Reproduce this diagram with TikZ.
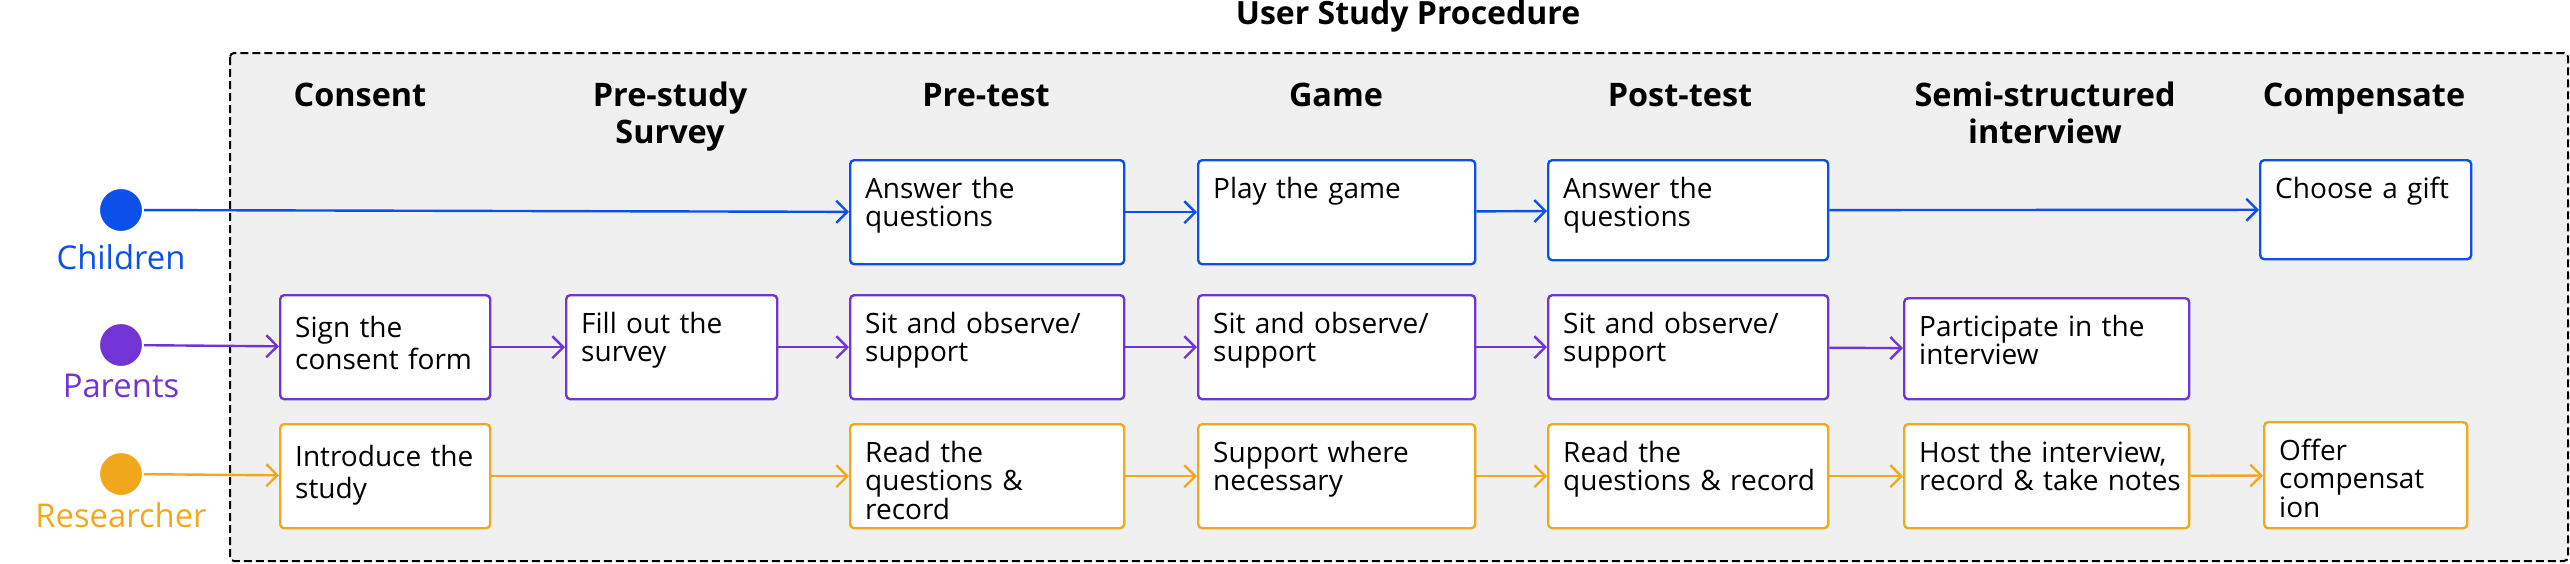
\documentclass[tikz,border=0pt]{standalone}
\usepackage{fontspec}
\setmainfont{Open Sans}
\usetikzlibrary{arrows.meta}
\definecolor{kidblue}{HTML}{0B50E8}
\definecolor{parpurple}{HTML}{7234D4}
\definecolor{resorange}{HTML}{F2A81D}
\definecolor{lanegrey}{HTML}{F0F0F0}
\begin{document}
\begin{tikzpicture}[x=0.5pt,y=-0.5pt,
    stepbox/.style={draw,line width=1.2pt,rounded corners=2pt,fill=white,
      anchor=north west,align=left,inner xsep=7.5pt,inner ysep=0pt,
      text height=19pt,text depth=33pt,font=\fontsize{14}{14.3}\selectfont},
    consentbox/.style={stepbox,text height=21pt,text depth=31pt,
      font=\fontsize{14}{16.3}\selectfont},
    actor/.style={circle,draw=white,line width=1pt,minimum size=22pt,inner sep=0pt},
    actorlabel/.style={anchor=base,font=\fontsize{16.4}{19}\selectfont},
    phase/.style={anchor=base,text width=150pt,align=center,
      font=\fontsize{16.2}{18.5}\selectfont\bfseries},
    flow/.style={line width=1.2pt,-{Straight Barb[length=5.5pt,width=11pt]}}]
  \useasboundingbox (0,0) rectangle (2570,563);
  \draw[line width=1pt,dash pattern=on 4pt off 2pt,fill=lanegrey,rounded corners=2pt]
    (230,53) rectangle (2568,561);
  \node[anchor=base,font=\fontsize{16}{19}\selectfont\bfseries] (title) at (1408,24) {User Study Procedure};
  % phases
  \node[phase] (h1) at (360,106) {Consent};
  \node[phase] (h2) at (670,106) {Pre-study\\Survey};
  \node[phase] (h3) at (986,106) {Pre-test};
  \node[phase] (h4) at (1336,106) {Game};
  \node[phase] (h5) at (1680,106) {Post-test};
  \node[phase] (h6) at (2045,106) {Semi-structured\\interview};
  \node[phase] (h7) at (2364,106) {Compensate};
  % actors
  \node[actor,fill=kidblue] (ch) at (121,210) {};
  \node[actor,fill=parpurple] (pa) at (121,345) {};
  \node[actor,fill=resorange] (re) at (121,474) {};
  \node[actorlabel,text=kidblue] (chl) at (121,269) {Children};
  \node[actorlabel,text=parpurple] (pal) at (121,397) {Parents};
  \node[actorlabel,text=resorange] (rel) at (121,527) {Researcher};
  % children
  \node[stepbox,draw=kidblue,text width=122pt] (c3) at (849,159) {Answer the\\questions};
  \node[stepbox,draw=kidblue,text width=123.5pt] (c4) at (1197,159) {Play the game};
  \node[stepbox,draw=kidblue,text width=125pt,text depth=31pt] (c5) at (1547,159) {Answer the\\questions};
  \node[stepbox,draw=kidblue,text width=90.5pt,text depth=30.5pt] (c7) at (2259,159) {Choose a gift};
  % parents
  \node[consentbox,draw=parpurple,text width=90pt] (p1) at (279,294) {Sign the\\consent~form};
  \node[stepbox,draw=parpurple,text width=90.5pt] (p2) at (565,294) {Fill out the\\survey};
  \node[stepbox,draw=parpurple,text width=122pt] (p3) at (849,294) {Sit and observe/\\support};
  \node[stepbox,draw=parpurple,text width=123.5pt] (p4) at (1197,294) {Sit and observe/\\support};
  \node[stepbox,draw=parpurple,text width=125pt] (p5) at (1547,294) {Sit and observe/\\support};
  \node[stepbox,draw=parpurple,text width=127.5pt,text depth=31.5pt] (p6) at (1903,297) {Participate in the\\interview};
  % researcher
  \node[consentbox,draw=resorange,text width=90pt] (r1) at (279,423) {Introduce~the\\study};
  \node[stepbox,draw=resorange,text width=122pt] (r3) at (849,423) {Read the\\questions \&\\record};
  \node[stepbox,draw=resorange,text width=123.5pt] (r4) at (1197,423) {Support where\\necessary};
  \node[stepbox,draw=resorange,text width=125pt] (r5) at (1547,423) {Read the\\questions~\&~record};
  \node[stepbox,draw=resorange,text width=127.5pt] (r6) at (1903,423) {Host~the~interview,\\record~\&~take~notes};
  \node[stepbox,draw=resorange,text width=86.5pt,text depth=34pt] (r7) at (2263,421) {Offer\\compensat\\ion};
  \begin{scope}[flow,kidblue]
    \draw (ch) to (c3);
    \draw (c3) to (c4);
    \draw (c4) to (c5);
    \draw (c5) to (c7);
  \end{scope}
  \begin{scope}[flow,parpurple]
    \draw (pa) to (p1);
    \draw (p1) to (p2);
    \draw (p2) to (p3);
    \draw (p3) to (p4);
    \draw (p4) to (p5);
    \draw (p5) to (p6);
  \end{scope}
  \begin{scope}[flow,resorange]
    \draw (re) to (r1);
    \draw (r1) to (r3);
    \draw (r3) to (r4);
    \draw (r4) to (r5);
    \draw (r5) to (r6);
    \draw (r6) to (r7);
  \end{scope}
\end{tikzpicture}
\end{document}
